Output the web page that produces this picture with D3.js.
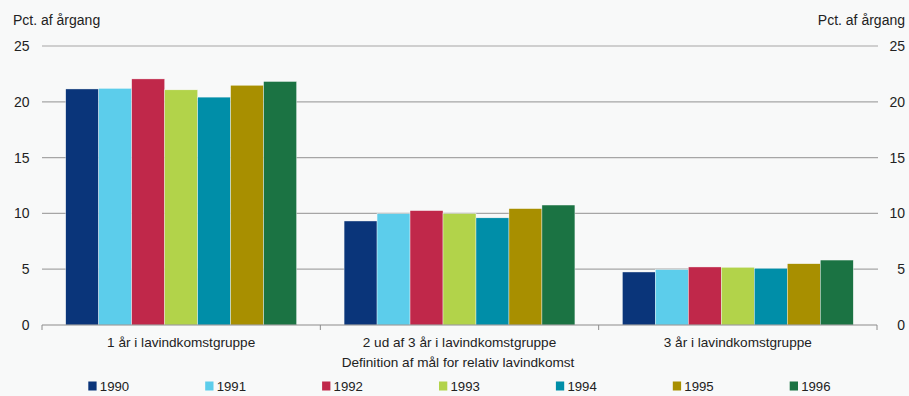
<!DOCTYPE html>
<html><head><meta charset="utf-8">
<script src="https://cdn.jsdelivr.net/npm/d3@7"></script>
<style>
body{margin:0;background:#f8f9f9;}
svg{display:block;font-family:"Liberation Sans",Arial,sans-serif;}
</style></head>
<body><svg id="c" width="909" height="396"></svg>
<script>
const categories = ["1 år i lavindkomstgruppe","2 ud af 3 år i lavindkomstgruppe","3 år i lavindkomstgruppe"];
const years = ["1990","1991","1992","1993","1994","1995","1996"];
const v1990 = [21.15, 9.32, 4.75];
const v1991 = [21.2, 9.97, 4.96];
const v1992 = [22.05, 10.25, 5.2];
const v1993 = [21.07, 9.98, 5.17];
const v1994 = [20.42, 9.6, 5.08];
const v1995 = [21.48, 10.43, 5.49];
const v1996 = [21.82, 10.75, 5.82];
const yTicks = [0,5,10,15,20,25];
const colors = ["#0a357a","#5ccdeb","#c0284a","#b2d34a","#008ea8","#a88f00","#1b7343"];
const series = [v1990,v1991,v1992,v1993,v1994,v1995,v1996];

const svg = d3.select("#c");
const L=42, R=877, T=46, B=325;
const x0 = d3.scaleBand().domain(categories).range([L,R]).padding(0);
const x1 = d3.scaleBand().domain(years).range([0,x0.bandwidth()]).paddingInner(0).paddingOuter(0.72);
const y = d3.scaleLinear().domain([0,25]).range([B,T]);

// gridlines
svg.append("g").selectAll("line").data(yTicks.filter(d=>d>0)).join("line")
  .attr("x1",L).attr("x2",R+1).attr("y1",d=>y(d)).attr("y2",d=>y(d))
  .attr("stroke","#a6a6a6").attr("stroke-width",1.2);

// bars
const g = svg.append("g");
categories.forEach((c,ci)=>{
  years.forEach((yr,yi)=>{
    const v = series[yi][ci];
    g.append("rect").attr("x",x0(c)+x1(yr)).attr("width",x1.bandwidth())
      .attr("y",y(v)).attr("height",B-y(v)).attr("fill",colors[yi])
      .attr("stroke","#f8f9f9").attr("stroke-width",0.4);
  });
});

// x axis
svg.append("line").attr("x1",L).attr("x2",R).attr("y1",B).attr("y2",B).attr("stroke","#8c8c8c").attr("stroke-width",1.2);
const bounds = [L, ...categories.slice(1).map(c=>x0(c)), R];
svg.append("g").selectAll("line").data(bounds).join("line")
  .attr("x1",d=>d).attr("x2",d=>d).attr("y1",B).attr("y2",B+5).attr("stroke","#8c8c8c");

svg.append("g").selectAll("text").data(categories).join("text")
  .attr("x",d=>x0(d)+x0.bandwidth()/2).attr("y",347).attr("text-anchor","middle")
  .attr("font-size",13.6).attr("fill","#222").text(d=>d);
svg.append("text").attr("x",458).attr("y",367).attr("text-anchor","middle")
  .attr("font-size",13.6).attr("fill","#222").text("Definition af mål for relativ lavindkomst");

// y tick labels
svg.append("g").selectAll("text").data(yTicks).join("text")
  .attr("x",29.5).attr("y",d=>y(d)+5).attr("text-anchor","end").attr("font-size",14).attr("fill","#222").text(d=>d);
svg.append("g").selectAll("text").data(yTicks).join("text")
  .attr("x",905).attr("y",d=>y(d)+5).attr("text-anchor","end").attr("font-size",14).attr("fill","#222").text(d=>d);
svg.append("text").attr("x",13).attr("y",25).attr("font-size",14).attr("fill","#222").text("Pct. af årgang");
svg.append("text").attr("x",905).attr("y",25).attr("text-anchor","end").attr("font-size",14).attr("fill","#222").text("Pct. af årgang");

// legend
const lg = svg.append("g").selectAll("g").data(years).join("g")
  .attr("transform",(d,i)=>`translate(${88.3+i*116.9},381.5)`);
lg.append("rect").attr("width",8.3).attr("height",9).attr("fill",(d,i)=>colors[i]);
lg.append("text").attr("x",11.5).attr("y",9.5).attr("font-size",13.2).attr("fill","#222").text(d=>d);
</script></body></html>
